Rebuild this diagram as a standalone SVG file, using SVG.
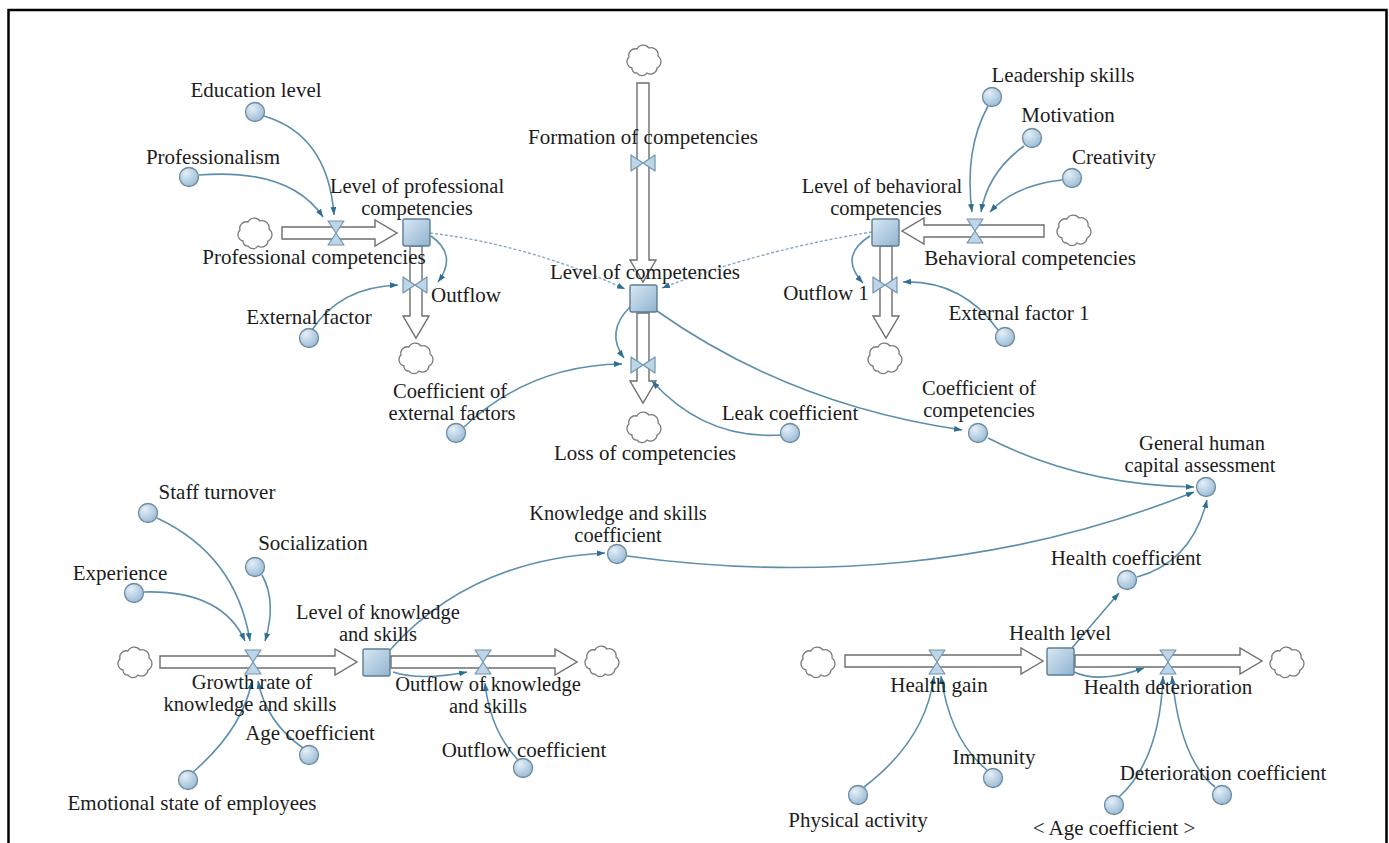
<svg xmlns="http://www.w3.org/2000/svg" xmlns:xlink="http://www.w3.org/1999/xlink" width="1389" height="843" viewBox="0 0 1389 843">
  <style>
    text { font-family: "Liberation Serif", "Times New Roman", serif; font-size: 21px; fill: #1c1c1c; text-anchor: middle; }
    text.two { font-size: 20.5px; }
    .pipe { fill: #ffffff; stroke: #6e6e6e; stroke-width: 1.4; stroke-linejoin: miter; }
    .cloud { fill: #ffffff; stroke: #7a7a7a; stroke-width: 1.3; }
    .valve { fill: #bcd5e8; stroke: #7594aa; stroke-width: 1.2; stroke-linejoin: round; }
    .stock { fill: url(#stockFill); stroke: #5f7d92; stroke-width: 1.4; }
    .aux { fill: url(#auxFill); stroke: #6d8aa0; stroke-width: 1.3; }
    .link { fill: none; stroke: #5d8fab; stroke-width: 1.6; marker-end: url(#arrow); }
    .dash { fill: none; stroke: #86a9c0; stroke-width: 1.4; stroke-dasharray: 3 2; marker-end: url(#arrow); }
  </style>
  <defs>
    <radialGradient id="auxFill" cx="0.35" cy="0.3" r="0.8">
      <stop offset="0" stop-color="#e4eff8"/>
      <stop offset="1" stop-color="#93b7d2"/>
    </radialGradient>
    <linearGradient id="stockFill" x1="0" y1="0" x2="1" y2="1">
      <stop offset="0" stop-color="#d9e8f4"/>
      <stop offset="1" stop-color="#8fb3cf"/>
    </linearGradient>
    <marker id="arrow" viewBox="0 0 8 6" refX="8" refY="3" markerWidth="8" markerHeight="6" markerUnits="userSpaceOnUse" orient="auto">
      <path d="M0,0 L8,3 L0,6 z" fill="#2f6f93"/>
    </marker>
    <path id="cloud" class="cloud" d="M-12,8 a6.5,6.5 0 0 1 -3,-11 a6.5,6.5 0 0 1 8,-8 a7,7 0 0 1 12,-1 a7,7 0 0 1 9,8 a7,7 0 0 1 -1,12 a6.5,6.5 0 0 1 -10,5 a6,6 0 0 1 -10,0 a4.5,4.5 0 0 1 -5,-5 z"/>
    <g id="valveH">
      <polygon class="valve" points="-8,-12 8,-12 0,0"/>
      <polygon class="valve" points="-8,12 8,12 0,0"/>
    </g>
    <g id="valveV">
      <polygon class="valve" points="-12,-8 -12,8 0,0"/>
      <polygon class="valve" points="12,-8 12,8 0,0"/>
    </g>
  </defs>

  <rect width="1389" height="843" fill="#ffffff"/>
  <path d="M8.5,843 V10 H1386.5 V843" fill="none" stroke="#000000" stroke-width="2.5"/>

  <!-- material flows (pipes) and information links -->
  <g id="connectors">
    <polygon class="pipe" points="282,227 375,227 375,220 397,233 375,246 375,239 282,239"/>
    <polygon class="pipe" points="410,246 410,316 403,316 416,338 429,316 422,316 422,246"/>
    <polygon class="pipe" points="637,83 637,260 630,260 643,282 656,260 649,260 649,83"/>
    <polygon class="pipe" points="637,313 637,381 630,381 643,403 656,381 649,381 649,313"/>
    <polygon class="pipe" points="1044,225 924,225 924,218 902,231 924,244 924,237 1044,237"/>
    <polygon class="pipe" points="880,246 880,316 873,316 886,338 899,316 892,316 892,246"/>
    <polygon class="pipe" points="160,656 335,656 335,649 357,662 335,675 335,668 160,668"/>
    <polygon class="pipe" points="391,656 555,656 555,649 577,662 555,675 555,668 391,668"/>
    <polygon class="pipe" points="845,655 1021,655 1021,648 1043,661 1021,674 1021,667 845,667"/>
    <polygon class="pipe" points="1075,655 1240,655 1240,648 1262,661 1240,674 1240,667 1075,667"/>

    <path class="link" d="M264,116 Q328,135 334,215"/>
    <path class="link" d="M199,175 Q290,168 323,217"/>
    <path class="link" d="M312,330 Q340,287 398,285"/>
    <path class="link" d="M431,236 Q458,255 438,282"/>
    <path class="dash" d="M430,233 Q530,245 625,289"/>

    <path class="link" d="M630,307 Q605,332 624,358"/>
    <path class="link" d="M464,427 Q530,365 622,364"/>
    <path class="link" d="M781,435 Q705,440 652,381"/>
    <path class="link" d="M657,311 Q790,405 962,430"/>
    <path class="link" d="M988,438 Q1080,485 1194,487"/>
    <path class="link" d="M627,556 C800,580 1000,570 1194,492"/>
    <path class="link" d="M1137,577 Q1192,562 1207,500"/>
    <path class="link" d="M1072,648 Q1100,615 1119,593"/>

    <path class="link" d="M988,106 Q964,150 972,212"/>
    <path class="link" d="M1024,146 Q988,172 981,212"/>
    <path class="link" d="M1062,180 Q1015,185 990,212"/>
    <path class="link" d="M870,236 Q838,256 863,283"/>
    <path class="link" d="M998,330 Q962,280 903,282"/>
    <path class="dash" d="M872,232 Q760,250 662,288"/>

    <path class="link" d="M157,518 Q236,555 250,641"/>
    <path class="link" d="M144,592 Q222,590 245,641"/>
    <path class="link" d="M262,575 Q277,602 265,641"/>
    <path class="link" d="M193,772 Q242,730 252,681"/>
    <path class="link" d="M303,748 Q266,722 258,681"/>
    <path class="link" d="M393,672 Q420,681 467,672"/>
    <path class="link" d="M518,760 Q490,730 485,683"/>
    <path class="link" d="M390,650 Q470,560 605,553"/>

    <path class="link" d="M864,787 Q926,740 934,676"/>
    <path class="link" d="M987,770 Q950,740 941,676"/>
    <path class="link" d="M1074,672 Q1100,684 1144,668"/>
    <path class="link" d="M1119,797 Q1160,760 1163,676"/>
    <path class="link" d="M1215,787 Q1180,760 1172,676"/>
  </g>

  <!-- clouds (sources and sinks) -->
  <g id="cloud-prof-source"><use href="#cloud" x="255" y="233"/></g>
  <g id="cloud-prof-sink"><use href="#cloud" x="416" y="358"/></g>
  <g id="cloud-formation-source"><use href="#cloud" x="644" y="60"/></g>
  <g id="cloud-loss-sink"><use href="#cloud" x="644" y="427"/></g>
  <g id="cloud-behav-source"><use href="#cloud" x="1074" y="230"/></g>
  <g id="cloud-outflow1-sink"><use href="#cloud" x="885" y="358"/></g>
  <g id="cloud-knowledge-source"><use href="#cloud" x="135" y="662"/></g>
  <g id="cloud-knowledge-sink"><use href="#cloud" x="602" y="661"/></g>
  <g id="cloud-health-source"><use href="#cloud" x="818" y="662"/></g>
  <g id="cloud-health-sink"><use href="#cloud" x="1287" y="662"/></g>

  <!-- rates (valves) -->
  <g id="rate-professional-competencies">
    <use href="#valveH" x="336" y="233"/>
    <text x="314" y="264">Professional competencies</text>
  </g>
  <g id="rate-outflow">
    <use href="#valveV" x="415" y="285"/>
    <text x="466" y="302">Outflow</text>
  </g>
  <g id="rate-formation">
    <use href="#valveV" x="643" y="163"/>
    <text x="643" y="144">Formation of competencies</text>
  </g>
  <g id="rate-loss">
    <use href="#valveV" x="643" y="365"/>
    <text x="645" y="460">Loss of competencies</text>
  </g>
  <g id="rate-behavioral-competencies">
    <use href="#valveH" x="975" y="231"/>
    <text x="1030" y="265">Behavioral competencies</text>
  </g>
  <g id="rate-outflow-1">
    <use href="#valveV" x="885" y="285"/>
    <text x="826" y="300">Outflow 1</text>
  </g>
  <g id="rate-growth-knowledge">
    <use href="#valveH" x="253" y="662"/>
    <text class="two" x="252" y="689">Growth rate of<tspan x="250" dy="22">knowledge and skills</tspan></text>
  </g>
  <g id="rate-outflow-knowledge">
    <use href="#valveH" x="483" y="662"/>
    <text class="two" x="488" y="691">Outflow of knowledge<tspan x="488" dy="22">and skills</tspan></text>
  </g>
  <g id="rate-health-gain">
    <use href="#valveH" x="937" y="662"/>
    <text x="939" y="692">Health gain</text>
  </g>
  <g id="rate-health-deterioration">
    <use href="#valveH" x="1168" y="662"/>
    <text x="1168" y="694">Health deterioration</text>
  </g>

  <!-- stocks -->
  <g id="stock-professional">
    <rect class="stock" x="403" y="219" width="27" height="27" rx="2"/>
    <text class="two" x="417" y="193">Level of professional<tspan x="417" dy="22">competencies</tspan></text>
  </g>
  <g id="stock-competencies">
    <rect class="stock" x="630" y="285" width="27" height="27" rx="2"/>
    <text x="645" y="279">Level of competencies</text>
  </g>
  <g id="stock-behavioral">
    <rect class="stock" x="872" y="219" width="27" height="27" rx="2"/>
    <text class="two" x="882" y="193">Level of behavioral<tspan x="886" dy="22">competencies</tspan></text>
  </g>
  <g id="stock-knowledge">
    <rect class="stock" x="363" y="649" width="27" height="27" rx="2"/>
    <text class="two" x="378" y="619">Level of knowledge<tspan x="378" dy="22">and skills</tspan></text>
  </g>
  <g id="stock-health">
    <rect class="stock" x="1047" y="648" width="27" height="27" rx="2"/>
    <text x="1060" y="640">Health level</text>
  </g>

  <!-- auxiliary variables -->
  <g id="aux-education-level">
    <circle class="aux" cx="255" cy="112" r="9.5"/>
    <text x="256" y="97">Education level</text>
  </g>
  <g id="aux-professionalism">
    <circle class="aux" cx="189" cy="177" r="9.5"/>
    <text x="213" y="164">Professionalism</text>
  </g>
  <g id="aux-external-factor">
    <circle class="aux" cx="309" cy="338" r="9.5"/>
    <text x="309" y="324">External factor</text>
  </g>
  <g id="aux-coef-external-factors">
    <circle class="aux" cx="456" cy="433" r="9.5"/>
    <text class="two" x="450" y="398">Coefficient of<tspan x="452" dy="22">external factors</tspan></text>
  </g>
  <g id="aux-leak-coefficient">
    <circle class="aux" cx="790" cy="433" r="9.5"/>
    <text x="790" y="420">Leak coefficient</text>
  </g>
  <g id="aux-coef-competencies">
    <circle class="aux" cx="978" cy="433" r="9.5"/>
    <text class="two" x="979" y="395">Coefficient of<tspan x="979" dy="22">competencies</tspan></text>
  </g>
  <g id="aux-general-assessment">
    <circle class="aux" cx="1206" cy="487" r="9.5"/>
    <text class="two" x="1202" y="450">General human<tspan x="1200" dy="22">capital assessment</tspan></text>
  </g>
  <g id="aux-leadership-skills">
    <circle class="aux" cx="992" cy="97" r="9.5"/>
    <text x="1063" y="82">Leadership skills</text>
  </g>
  <g id="aux-motivation">
    <circle class="aux" cx="1032" cy="138" r="9.5"/>
    <text x="1068" y="122">Motivation</text>
  </g>
  <g id="aux-creativity">
    <circle class="aux" cx="1072" cy="178" r="9.5"/>
    <text x="1114" y="164">Creativity</text>
  </g>
  <g id="aux-external-factor-1">
    <circle class="aux" cx="1005" cy="337" r="9.5"/>
    <text x="1019" y="320">External factor 1</text>
  </g>
  <g id="aux-staff-turnover">
    <circle class="aux" cx="148" cy="513" r="9.5"/>
    <text x="217" y="499">Staff turnover</text>
  </g>
  <g id="aux-socialization">
    <circle class="aux" cx="255" cy="567" r="9.5"/>
    <text x="313" y="550">Socialization</text>
  </g>
  <g id="aux-experience">
    <circle class="aux" cx="134" cy="593" r="9.5"/>
    <text x="120" y="580">Experience</text>
  </g>
  <g id="aux-knowledge-coefficient">
    <circle class="aux" cx="617" cy="554" r="9.5"/>
    <text class="two" x="618" y="520">Knowledge and skills<tspan x="618" dy="22">coefficient</tspan></text>
  </g>
  <g id="aux-age-coefficient">
    <circle class="aux" cx="309" cy="755" r="9.5"/>
    <text x="310" y="740">Age coefficient</text>
  </g>
  <g id="aux-outflow-coefficient">
    <circle class="aux" cx="523" cy="768" r="9.5"/>
    <text x="524" y="757">Outflow coefficient</text>
  </g>
  <g id="aux-emotional-state">
    <circle class="aux" cx="188" cy="780" r="9.5"/>
    <text x="192" y="810">Emotional state of employees</text>
  </g>
  <g id="aux-health-coefficient">
    <circle class="aux" cx="1127" cy="580" r="9.5"/>
    <text x="1126" y="565">Health coefficient</text>
  </g>
  <g id="aux-immunity">
    <circle class="aux" cx="993" cy="778" r="9.5"/>
    <text x="994" y="764">Immunity</text>
  </g>
  <g id="aux-deterioration-coefficient">
    <circle class="aux" cx="1222" cy="795" r="9.5"/>
    <text x="1223" y="780">Deterioration coefficient</text>
  </g>
  <g id="aux-physical-activity">
    <circle class="aux" cx="858" cy="795" r="9.5"/>
    <text x="858" y="827">Physical activity</text>
  </g>
  <g id="aux-age-coefficient-shadow">
    <circle class="aux" cx="1114" cy="805" r="9.5"/>
    <text x="1114" y="835">&lt; Age coefficient &gt;</text>
  </g>
</svg>
